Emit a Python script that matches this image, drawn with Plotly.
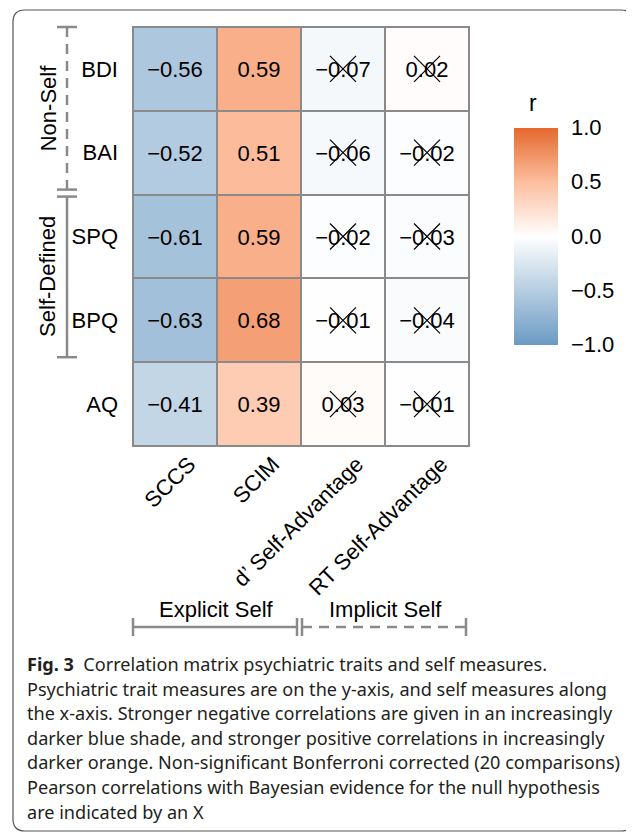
import plotly.graph_objects as go

rows = ["BDI", "BAI", "SPQ", "BPQ", "AQ"]
cols = ["SCCS", "SCIM", "d’ Self-Advantage", "RT Self-Advantage"]
values = [
    [-0.56, 0.59, -0.07, 0.02],
    [-0.52, 0.51, -0.06, -0.02],
    [-0.61, 0.59, -0.02, -0.03],
    [-0.63, 0.68, -0.01, -0.04],
    [-0.41, 0.39, 0.03, -0.01],
]
nonsig = [
    [False, False, True, True],
    [False, False, True, True],
    [False, False, True, True],
    [False, False, True, True],
    [False, False, True, True],
]
cbar_ticks = [-1.0, -0.5, 0.0, 0.5, 1.0]
row_groups = [("Non-Self", 0, 1, "dash"), ("Self-Defined", 2, 3, "solid")]
col_groups = [("Explicit Self", 0, 1, "solid"), ("Implicit Self", 2, 3, "dash")]
caption_lines = [
    "<b>Fig. 3</b>&nbsp;&nbsp;Correlation matrix psychiatric traits and self measures.",
    "Psychiatric trait measures are on the y-axis, and self measures along",
    "the x-axis. Stronger negative correlations are given in an increasingly",
    "darker blue shade, and stronger positive correlations in increasingly",
    "darker orange. Non-significant Bonferroni corrected (20 comparisons)",
    "Pearson correlations with Bayesian evidence for the null hypothesis",
    "are indicated by an X",
]

OFF = 8  # page body margin offset
W, H = 634 - OFF, 833 - OFF
L, R, T, B = 133 - OFF, 469 - OFF, 27 - OFF, 446 - OFF


def px2x(px):
    return (px - OFF - L) / (R - L)


def py2y(py):
    return (B - (py - OFF)) / (B - T)


def fmt(v):
    return f"{v:.2f}".replace("-", "\u2212")


text = [[fmt(v) for v in r] for r in values]
FONT = "Liberation Sans, Arial, sans-serif"
GRAY = "#8a8a8a"
FS = 22

colorscale = [
    [0.0, "rgb(106,155,196)"],
    [0.25, "rgb(182,205,225)"],
    [0.5, "rgb(255,255,255)"],
    [0.75, "rgb(252,190,158)"],
    [1.0, "rgb(229,104,46)"],
]

fig = go.Figure()
fig.add_trace(go.Heatmap(
    z=values, x=cols, y=rows, text=text, texttemplate="%{text}",
    textfont=dict(size=FS, color="black", family=FONT),
    zmin=-1, zmax=1, colorscale=colorscale, xgap=2, ygap=2,
    hoverinfo="skip",
    colorbar=dict(
        x=px2x(514), xanchor="left", y=py2y(236), yanchor="middle",
        thickness=44, thicknessmode="pixels", len=217, lenmode="pixels",
        outlinewidth=0, tickvals=cbar_ticks,
        ticktext=[f"{t:.1f}".replace("-", "\u2212") for t in cbar_ticks],
        ticks="outside", ticklen=9, tickcolor="rgba(0,0,0,0)",
        tickfont=dict(size=FS, family=FONT, color="black"),
        ypad=0, xpad=0,
    ),
))

xs, ys = [], []
for i, r in enumerate(rows):
    for j, c in enumerate(cols):
        if nonsig[i][j]:
            xs.append(c)
            ys.append(r)
fig.add_trace(go.Scatter(
    x=xs, y=ys, mode="markers", hoverinfo="skip", showlegend=False,
    marker=dict(symbol="x-thin", size=26, color="black",
                line=dict(width=1.2, color="black")),
))

shapes = []
shapes.append(dict(type="rect", xref="paper", yref="paper", x0=0, x1=1, y0=0, y1=1,
                   line=dict(color=GRAY, width=2)))

cell_h = (B - T) / len(rows)
cell_w = (R - L) / len(cols)
annotations = []

# row group brackets (target screenshot pixels)
T0, L0 = T + OFF, L + OFF
bx = 67
for name, r0, r1, dash in row_groups:
    ytop = T0 + r0 * cell_h + (0 if r0 == 0 else 2)
    ybot = T0 + (r1 + 1) * cell_h - (5 if r1 < len(rows) - 1 else 3)
    d = "10px,7px" if dash == "dash" else "solid"
    shapes.append(dict(type="line", xref="paper", yref="paper",
                       x0=px2x(bx), x1=px2x(bx), y0=py2y(ytop), y1=py2y(ybot),
                       line=dict(color=GRAY, width=2.5, dash=d)))
    for yy in (ytop, ybot):
        shapes.append(dict(type="line", xref="paper", yref="paper",
                           x0=px2x(bx - 10), x1=px2x(bx + 10), y0=py2y(yy), y1=py2y(yy),
                           line=dict(color=GRAY, width=2.5)))
    annotations.append(dict(text=name, xref="paper", yref="paper",
                            x=px2x(48), y=py2y((ytop + ybot) / 2), textangle=-90,
                            showarrow=False, xanchor="center", yanchor="middle",
                            font=dict(size=FS, family=FONT, color="black")))

# column group brackets
by = 627
for name, c0, c1, dash in col_groups:
    xl = L0 + c0 * cell_w + (0 if c0 == 0 else 1)
    xr = L0 + (c1 + 1) * cell_w - (4 if c1 < len(cols) - 1 else 3)
    d = "10px,7px" if dash == "dash" else "solid"
    shapes.append(dict(type="line", xref="paper", yref="paper",
                       x0=px2x(xl), x1=px2x(xr), y0=py2y(by), y1=py2y(by),
                       line=dict(color=GRAY, width=2.5, dash=d)))
    for xx in (xl, xr):
        shapes.append(dict(type="line", xref="paper", yref="paper",
                           x0=px2x(xx), x1=px2x(xx), y0=py2y(by - 9), y1=py2y(by + 9),
                           line=dict(color=GRAY, width=2.5)))
    annotations.append(dict(text=name, xref="paper", yref="paper",
                            x=px2x((xl + xr) / 2 + 1), y=py2y(609),
                            showarrow=False, xanchor="center", yanchor="middle",
                            font=dict(size=FS, family=FONT, color="black")))

# colorbar title
annotations.append(dict(text="r", xref="paper", yref="paper", x=px2x(533), y=py2y(103),
                        showarrow=False, xanchor="center", yanchor="middle",
                        font=dict(size=23, family=FONT, color="black")))

# caption
for k, line in enumerate(caption_lines):
    annotations.append(dict(text=line, xref="paper", yref="paper",
                            x=px2x(25), y=py2y(664 + 24.6 * k),
                            showarrow=False, xanchor="left", yanchor="middle",
                            font=dict(size=18.1, family="Noto Sans, sans-serif", color="#231f20")))

# rounded figure frame
x0, x1, y0, y1, rr = 13, 633, 10, 831, 12
path = (f"M {px2x(x0)},{py2y(y0 + rr)} "
        f"Q {px2x(x0)},{py2y(y0)} {px2x(x0 + rr)},{py2y(y0)} "
        f"L {px2x(x1 - rr)},{py2y(y0)} "
        f"Q {px2x(x1)},{py2y(y0)} {px2x(x1)},{py2y(y0 + rr)} "
        f"L {px2x(x1)},{py2y(y1 - rr)} "
        f"Q {px2x(x1)},{py2y(y1)} {px2x(x1 - rr)},{py2y(y1)} "
        f"L {px2x(x0 + rr)},{py2y(y1)} "
        f"Q {px2x(x0)},{py2y(y1)} {px2x(x0)},{py2y(y1 - rr)} Z")
shapes.append(dict(type="path", xref="paper", yref="paper", path=path,
                   line=dict(color="#555555", width=1.2)))

fig.update_layout(
    width=W, height=H, margin=dict(l=L, r=W - R, t=T, b=H - B),
    paper_bgcolor="white", plot_bgcolor=GRAY,
    shapes=shapes, annotations=annotations, showlegend=False,
    xaxis=dict(tickangle=-45, tickfont=dict(size=FS, family=FONT, color="black"),
               showgrid=False, zeroline=False, ticks="", ticklabelstandoff=0,
               ticklabelshift=14),
    yaxis=dict(autorange="reversed", tickfont=dict(size=FS, family=FONT, color="black"),
               showgrid=False, zeroline=False, ticks="", ticklabelstandoff=14),
)

fig.write_html("out.html")
